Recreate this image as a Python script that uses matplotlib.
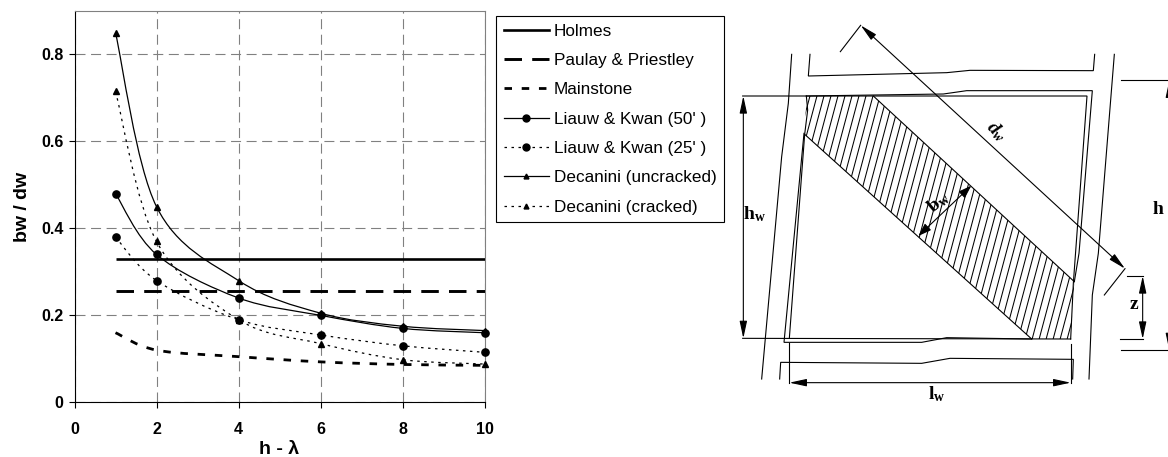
import numpy as np
import matplotlib
matplotlib.use("Agg")
import matplotlib.pyplot as plt
from matplotlib.lines import Line2D
from matplotlib.patches import PathPatch, Polygon
from matplotlib.path import Path

plt.rcParams['font.family'] = ['Liberation Sans', 'DejaVu Sans']
plt.rcParams['mathtext.fontset'] = 'custom'
plt.rcParams['mathtext.bf'] = 'Liberation Serif:bold'
plt.rcParams['mathtext.bfit'] = 'Liberation Serif:italic:bold'
plt.rcParams['mathtext.rm'] = 'Liberation Serif:bold'

# chart data
x_vals = [1, 2, 4, 6, 8, 10]
holmes_x = [1, 10]
holmes = [0.33, 0.33]
paulay_x = [1, 10]
paulay = [0.255, 0.255]
mainstone = [0.16, 0.12, 0.105, 0.093, 0.087, 0.085]
liauw_50 = [0.48, 0.34, 0.24, 0.20, 0.17, 0.16]
liauw_25 = [0.38, 0.28, 0.19, 0.155, 0.13, 0.115]
decanini_unc = [0.85, 0.45, 0.28, 0.205, 0.175, 0.165]
decanini_cr = [0.715, 0.37, 0.19, 0.135, 0.098, 0.088]

x_ticks = [0, 2, 4, 6, 8, 10]
y_ticks = [0, 0.2, 0.4, 0.6, 0.8]
y_tick_labels = ['0', '0.2', '0.4', '0.6', '0.8']

# sketch linework on the right, in a 1314 x 1371 drawing grid
sketch_lines = [
    [(185, 163), (175, 310), (155, 470), (95, 1137)],
    [(240, 163), (235, 228), (650, 218), (720, 211), (1090, 212), (1094, 163)],
    [(229, 288), (640, 282), (710, 272), (1087, 272), (1047, 760), (1033, 845)],
    [(38, 288), (1071, 288), (1030, 850), (1022, 1017)],
    [(229, 288), (233, 330), (224, 403), (178, 1015)],
    [(222, 400), (162, 1027), (575, 1027), (650, 1013), (905, 1017)],
    [(38, 1015), (1022, 1017)],
    [(1153, 163), (1105, 760), (1087, 885), (1077, 1137)],
    [(149, 1137), (152, 1087), (575, 1090), (660, 1075), (1030, 1078), (1028, 1137)],
    [(178, 1030), (178, 1150)],
    [(1022, 1033), (1022, 1150)],
    [(392, 76), (331, 155)],
    [(1185, 806), (1123, 885)],
    [(430, 288), (1033, 845)],
    [(224, 403), (905, 1017)],
    [(1190, 828), (1240, 828)],
    [(1170, 1017), (1240, 1017)],
    [(1172, 241), (1314, 241)],
    [(1172, 1051), (1314, 1051)],
]
strut = [(229, 288), (430, 288), (1033, 845), (1022, 1017), (905, 1017), (224, 403)]
hatch_starts = list(range(200, 1500, 21))
dim_arrows = [
    ((40, 288), (40, 1015)),
    ((178, 1148), (1022, 1148)),
    ((392, 76), (1185, 806)),
    ((1238, 828), (1238, 1017)),
    ((1318, 241), (1318, 1051)),
]
width_arrow = ((565, 708), (724, 557))
sketch_labels = [
    (74, 642, r'$\mathbf{h_w}$', 0),
    (800, 393, r'$\mathbfit{d_w}$', -45),
    (625, 606, r'$\mathbf{b_w}$', 40),
    (620, 1182, r'$\mathbf{l_w}$', 0),
    (1211, 914, r'$\mathbf{z}$', 0),
    (1285, 630, r'$\mathbf{h}$', 0),
]


def smooth_path(xs, ys):
    # same kind of smoothing a spreadsheet applies, bezier through each point
    pts = np.column_stack([xs, ys])
    verts = [pts[0]]
    codes = [Path.MOVETO]
    for i in range(len(pts) - 1):
        before = pts[max(i - 1, 0)]
        after = pts[min(i + 2, len(pts) - 1)]
        verts.append(pts[i] + (pts[i + 1] - before) / 6)
        verts.append(pts[i + 1] - (after - pts[i]) / 6)
        verts.append(pts[i + 1])
        codes += [Path.CURVE4, Path.CURVE4, Path.CURVE4]
    return Path(verts, codes)


fig = plt.figure(figsize=(11.68, 4.57), dpi=100)
ax = fig.add_axes([74.5 / 1168, 1 - 402.3 / 457, 410 / 1168, 391.3 / 457])

dotted = (0, (2, 3.6))
solid = '-'
main_dash = (0, (2.7, 3.5))
paulay_dash = (0, (6, 3.5))

ax.plot(holmes_x, holmes, color='black', lw=1.9, zorder=3, solid_capstyle='butt')
ax.plot(paulay_x, paulay, color='black', lw=2.1, ls=paulay_dash, zorder=3)

ax.add_patch(PathPatch(smooth_path(x_vals, mainstone), fill=False, ec='black', lw=2.0,
                       ls=main_dash, zorder=3))
for vals, style, marker, size in [
    (liauw_50, solid, 'o', 5.2),
    (liauw_25, dotted, 'o', 5.2),
    (decanini_unc, solid, '^', 4.2),
    (decanini_cr, dotted, '^', 4.2),
]:
    ax.add_patch(PathPatch(smooth_path(x_vals, vals), fill=False, ec='black', lw=0.9,
                           ls=style, zorder=3))
    ax.plot(x_vals, vals, ls='none', marker=marker, ms=size, color='black', zorder=4,
            clip_on=False)

ax.set_xlim(0, 10)
ax.set_ylim(0, 0.9)
ax.set_xticks(x_ticks)
ax.set_yticks(y_ticks)
ax.set_yticklabels(y_tick_labels)
ax.grid(True, color='#808080', lw=0.8, ls=(0, (9, 5)))
ax.set_axisbelow(True)
ax.spines['top'].set_color('#808080')
ax.spines['right'].set_color('#808080')
ax.tick_params(length=4, width=0.8, labelsize=11.5, pad=4)
ax.tick_params(axis='x', pad=10)
for lab in ax.get_xticklabels() + ax.get_yticklabels():
    lab.set_fontweight('bold')
ax.set_xlabel('h - λ', fontsize=14, fontweight='bold', labelpad=3)
ax.set_ylabel('bw / dw', fontsize=14, fontweight='bold', labelpad=7)

handles = [
    Line2D([], [], color='black', lw=1.9),
    Line2D([], [], color='black', lw=2.1, ls=paulay_dash),
    Line2D([], [], color='black', lw=2.0, ls=main_dash),
    Line2D([], [], color='black', lw=0.9, marker='o', ms=5),
    Line2D([], [], color='black', lw=0.9, ls=dotted, marker='o', ms=5),
    Line2D([], [], color='black', lw=0.9, marker='^', ms=3.5),
    Line2D([], [], color='black', lw=0.9, ls=dotted, marker='^', ms=3.5),
]
names = ['Holmes', 'Paulay & Priestley', 'Mainstone', "Liauw & Kwan (50' )",
         "Liauw & Kwan (25' )", 'Decanini (uncracked)', 'Decanini (cracked)']
leg = fig.legend(handles, names, loc='upper left', bbox_to_anchor=(496 / 1168, 1 - 16 / 457),
                 borderaxespad=0, fontsize=12.3, frameon=True, fancybox=False, framealpha=1,
                 edgecolor='black', handlelength=2.65, handletextpad=0.28, labelspacing=0.84,
                 borderpad=0.45, numpoints=1)
leg.get_frame().set_linewidth(0.8)

# right-hand sketch
sk = fig.add_axes([730 / 1168, 0, 438 / 1168, 1])
sk.set_xlim(0, 1314)
sk.set_ylim(1371, 0)
sk.axis('off')

for pts in sketch_lines:
    xs, ys = zip(*pts)
    sk.plot(xs, ys, color='black', lw=0.8, solid_joinstyle='miter')

clip = Polygon(strut, closed=True, transform=sk.transData, fc='none', ec='none')
sk.add_patch(clip)
for start in hatch_starts:
    ln, = sk.plot([start, start - 200], [280, 1030], color='black', lw=0.75)
    ln.set_clip_path(clip)

for a, b in dim_arrows:
    sk.annotate('', xy=b, xytext=a, annotation_clip=False,
                arrowprops=dict(arrowstyle='<|-|>,head_length=1.3,head_width=0.28',
                                mutation_scale=8, color='black', lw=0.8, shrinkA=0, shrinkB=0))
sk.annotate('', xy=width_arrow[1], xytext=width_arrow[0],
            arrowprops=dict(arrowstyle='<|-|>,head_length=1.0,head_width=0.34',
                            mutation_scale=8, color='black', lw=0.8, shrinkA=0, shrinkB=0))

for tx, ty, label, angle in sketch_labels:
    sk.text(tx, ty, label, fontsize=14, ha='center', va='center', rotation=angle,
            rotation_mode='anchor')

fig.savefig('out.png', dpi=100)
